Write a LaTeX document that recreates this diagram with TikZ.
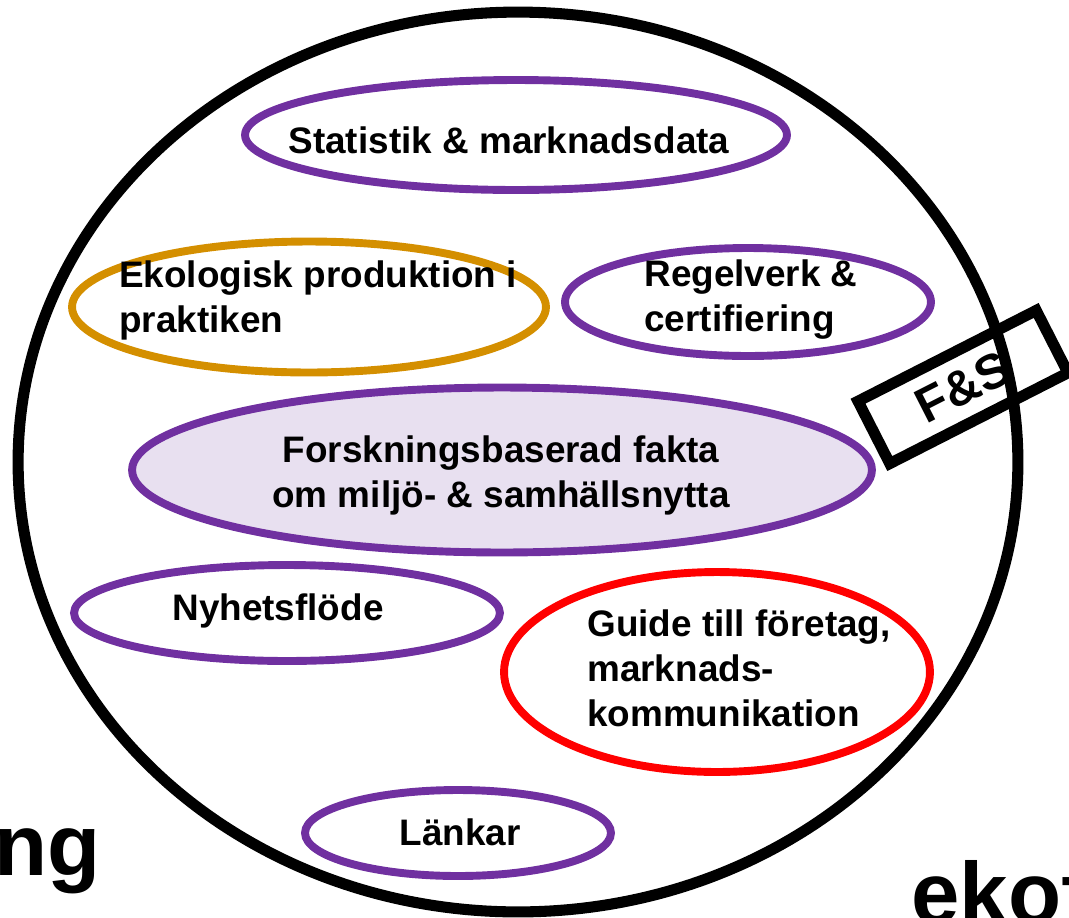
\documentclass[tikz,border=0pt]{standalone}
\usepackage{fontspec}
\setmainfont{Liberation Sans}
\usetikzlibrary{shapes.geometric,shadows}
\definecolor{purp}{HTML}{7030A0}
\definecolor{gold}{HTML}{D48F00}
\definecolor{lav}{HTML}{E8E0F0}

\begin{document}
\begin{tikzpicture}[x=0.02cm, y=-0.02cm, every node/.style={font=\fontsize{21}{25.6}\selectfont\bfseries}]
\tikzstyle{ring}=[draw=purp, ellipse, line width=4.5pt, inner sep=0pt]
\tikzstyle{lbl}=[inner sep=0pt]
\tikzstyle{big}=[inner sep=0pt, font=\fontsize{49.5}{59}\selectfont\bfseries]
\useasboundingbox (0,0) rectangle (1069,917);
\node[draw, fill=white, line width=6.3pt, rotate=27, minimum width=4cm, minimum height=1.4cm,
  font=\fontsize{28}{34}\selectfont\bfseries,
  drop shadow={opacity=0.25, shadow xshift=0.07cm, shadow yshift=-0.07cm}] (fs) at (963,387) {F\&S};
\node[draw, ellipse, line width=6.3pt, minimum width=20cm, minimum height=18cm, inner sep=0pt] (world) at (518,462) {};
\node[ring, minimum width=10.84cm, minimum height=2.2cm] (stat) at (516,135) {};
\node[ring, draw=gold, minimum width=9.48cm, minimum height=2.62cm] (eko) at (309,307) {};
\node[ring, minimum width=7.32cm, minimum height=2.16cm] (regel) at (748,302) {};
\node[ring, fill=lav, minimum width=14.8cm, minimum height=3.3cm] (fakta) at (502,470) {};
\node[ring, minimum width=8.52cm, minimum height=1.92cm] (nyhet) at (287,613) {};
\node[ring, draw=red, minimum width=8.52cm, minimum height=4cm] (guide) at (717,672) {};
\node[ring, minimum width=6.12cm, minimum height=1.72cm] (lank) at (458,833) {};
\node[lbl] (stat-t) at (509,140) {Statistik \& marknadsdata};
\node[lbl, align=left] (eko-t) at (318,300) {Ekologisk produktion i\\praktiken};
\node[lbl, align=left] (regel-t) at (751,300) {Regelverk \&\\certifiering};
\node[lbl, align=center] (fakta-t) at (501,475) {Forskningsbaserad fakta\\om milj\"o- \& samh\"allsnytta};
\node[lbl] (nyhet-t) at (278,611) {Nyhetsfl\"ode};
\node[lbl, align=left] (guide-t) at (739,668) {Guide till f\"oretag,\\marknads-\\kommunikation};
\node[lbl] (lank-t) at (460,832) {L\"ankar};
\node[big, anchor=base east] (ng) at (101,875) {ng};
\node[big, anchor=base west] (ekof) at (911,923) {ekof};
\end{tikzpicture}
\end{document}
